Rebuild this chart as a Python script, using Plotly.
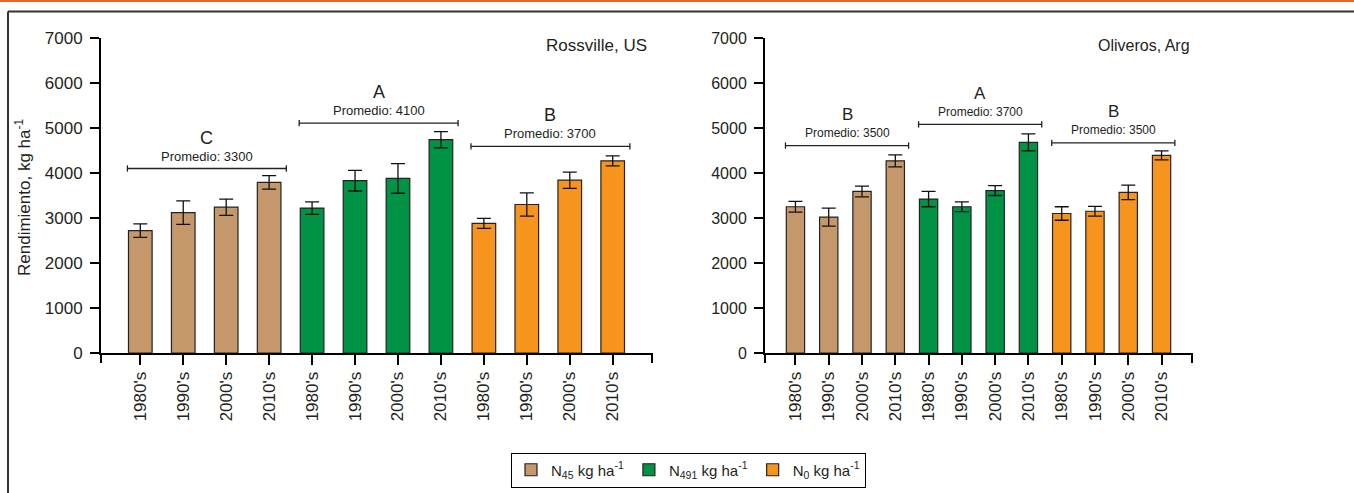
import plotly.graph_objects as go

# ---------------- data ----------------
decades = ["1980's", "1990's", "2000's", "2010's"]
series_names = ["N<sub>45</sub> kg ha<sup>-1</sup>",
                "N<sub>491</sub> kg ha<sup>-1</sup>",
                "N<sub>0</sub> kg ha<sup>-1</sup>"]
series_colors = ["#C4986B", "#009245", "#F7941E"]

ross_n45 = [2720, 3120, 3240, 3790]
ross_n45_err = [150, 260, 180, 150]
ross_n491 = [3220, 3830, 3880, 4740]
ross_n491_err = [140, 230, 330, 180]
ross_n0 = [2880, 3300, 3840, 4270]
ross_n0_err = [110, 260, 180, 110]

oli_n45 = [3250, 3020, 3590, 4270]
oli_n45_err = [120, 200, 120, 135]
oli_n491 = [3420, 3250, 3610, 4680]
oli_n491_err = [170, 110, 110, 190]
oli_n0 = [3100, 3150, 3570, 4390]
oli_n0_err = [150, 110, 160, 100]

ross_letters = ["C", "A", "B"]
ross_means = [3300, 4100, 3700]
ross_bracket = [4100, 5110, 4590]
oli_letters = ["B", "A", "B"]
oli_means = [3500, 3700, 3500]
oli_bracket = [4610, 5080, 4670]

panel_titles = ["Rossville, US", "Oliveros, Arg"]
y_ticks = [0, 1000, 2000, 3000, 4000, 5000, 6000, 7000]

# ---------------- figure ----------------
W, H = 1354, 493
def px(x):
    return x / W
def py(y):
    return (H - y) / H

FONT = "Arial, Liberation Sans, sans-serif"
NARROW = "Liberation Sans Narrow, Arial Narrow, Arial, sans-serif"
TXT = "#231F20"

fig = go.Figure()

panels = [
    dict(vals=[ross_n45, ross_n491, ross_n0], errs=[ross_n45_err, ross_n491_err, ross_n0_err],
         letters=ross_letters, means=ross_means, brackets=ross_bracket, xa="x", ya="y",
         font=FONT, small=13, big=17),
    dict(vals=[oli_n45, oli_n491, oli_n0], errs=[oli_n45_err, oli_n491_err, oli_n0_err],
         letters=oli_letters, means=oli_means, brackets=oli_bracket, xa="x2", ya="y2",
         font=NARROW, small=12, big=16),
]

xr = [-0.915, 11.915]
shapes = []
annotations = []

for p_i, p in enumerate(panels):
    for g in range(3):
        xs = [g * 4 + i for i in range(len(decades))]
        fig.add_trace(go.Bar(
            x=xs, y=p["vals"][g], name=series_names[g],
            marker=dict(color=series_colors[g], line=dict(color="#222222", width=1.2)),
            width=0.55,
            error_y=dict(type="data", array=p["errs"][g], color="#111111", thickness=1.3, width=7),
            xaxis=p["xa"], yaxis=p["ya"],
            showlegend=(p_i == 0), legendgroup=str(g),
        ))
        # significance bracket
        x0, x1 = g * 4 - 0.3, g * 4 + 3.4
        yb = p["brackets"][g]
        shapes.append(dict(type="line", xref=p["xa"], yref=p["ya"], x0=x0, x1=x1, y0=yb, y1=yb,
                           line=dict(color="#222222", width=1.3)))
        for xe in (x0, x1):
            shapes.append(dict(type="line", xref=p["xa"], yref=p["ya"], x0=xe, x1=xe,
                               y0=yb - 70, y1=yb + 70, line=dict(color="#222222", width=1.3)))
        xc = (x0 + x1) / 2
        annotations.append(dict(x=xc, y=yb, xref=p["xa"], yref=p["ya"], showarrow=False,
                                text="Promedio: %d" % p["means"][g], yanchor="middle", yshift=12.5,
                                font=dict(family=p["font"], size=p["small"], color=TXT)))
        annotations.append(dict(x=xc, y=yb, xref=p["xa"], yref=p["ya"], showarrow=False,
                                text=p["letters"][g], yanchor="middle", yshift=31,
                                font=dict(family=p["font"], size=p["big"] + 1, color=TXT)))
    # end ticks of the x axis (at both ends of the axis line)
    for xe in (0, 1):
        shapes.append(dict(type="line", xref=p["xa"] + " domain", yref=p["ya"] + " domain",
                           x0=xe, x1=xe, y0=0, y1=-10 / 315,
                           line=dict(color="black", width=2)))

# panel titles
annotations.append(dict(x=px(649), y=py(46), xref="paper", yref="paper", xanchor="right",
                        yanchor="middle", showarrow=False, text=panel_titles[0],
                        font=dict(family=FONT, size=17, color=TXT)))
annotations.append(dict(x=px(1192), y=py(46), xref="paper", yref="paper", xanchor="right",
                        yanchor="middle", showarrow=False, text=panel_titles[1],
                        font=dict(family=NARROW, size=16, color=TXT)))
# y axis title
annotations.append(dict(x=px(23), y=py(198), xref="paper", yref="paper", xanchor="center",
                        yanchor="middle", showarrow=False, textangle=-90,
                        text="Rendimiento, kg ha<sup>-1</sup>",
                        font=dict(family=FONT, size=17, color=TXT)))

# frame + orange top rule
shapes.append(dict(type="line", xref="paper", yref="paper", x0=0, x1=1, y0=py(1), y1=py(1),
                   line=dict(color="#E0672A", width=2)))
shapes.append(dict(type="line", xref="paper", yref="paper", x0=px(8), x1=1.0, y0=py(11.5), y1=py(11.5),
                   line=dict(color="#333333", width=2)))
shapes.append(dict(type="line", xref="paper", yref="paper", x0=px(8), x1=px(8), y0=py(11.5), y1=0,
                   line=dict(color="#333333", width=2)))

tickvals = list(range(12))
ticktext = decades * 3

def xaxis(domain):
    return dict(domain=domain, range=xr, tickvals=tickvals, ticktext=ticktext, tickangle=-90,
                showline=True, linecolor="black", linewidth=2, ticks="outside", ticklen=10,
                tickwidth=2, tickcolor="black", showgrid=False, zeroline=False, fixedrange=True,
                tickfont=dict(family=FONT, size=17, color=TXT), automargin=False)

def yaxis(domain, anchor, font, size):
    return dict(domain=domain, anchor=anchor, range=[0, 7000], tickvals=y_ticks,
                showline=True, linecolor="black", linewidth=2, ticks="outside", ticklen=9,
                tickwidth=2, tickcolor="black", showgrid=False, zeroline=False,
                tickfont=dict(family=font, size=size, color=TXT), ticklabelstandoff=4,
                automargin=False, fixedrange=True)

ydom = [py(353), py(38)]
fig.update_layout(
    width=W, height=H,
    margin=dict(l=0, r=0, t=0, b=0),
    paper_bgcolor="white", plot_bgcolor="white",
    xaxis=dict(xaxis([px(101), px(652)]), anchor="y"),
    yaxis=yaxis(ydom, "x", FONT, 17),
    xaxis2=dict(xaxis([px(765), px(1192)]), anchor="y2"),
    yaxis2=yaxis(ydom, "x2", NARROW, 16),
    barmode="overlay",
    showlegend=True,
    legend=dict(orientation="h", x=px(688.5), xanchor="center", y=py(470), yanchor="middle",
                bordercolor="black", borderwidth=1, bgcolor="white",
                font=dict(family=FONT, size=15, color=TXT), itemwidth=30,
                tracegroupgap=0),
    shapes=shapes,
    annotations=annotations,
)

fig.write_html("out.html", config={"displayModeBar": False},
               post_script="document.body.style.margin='0';document.body.style.overflow='hidden';")
